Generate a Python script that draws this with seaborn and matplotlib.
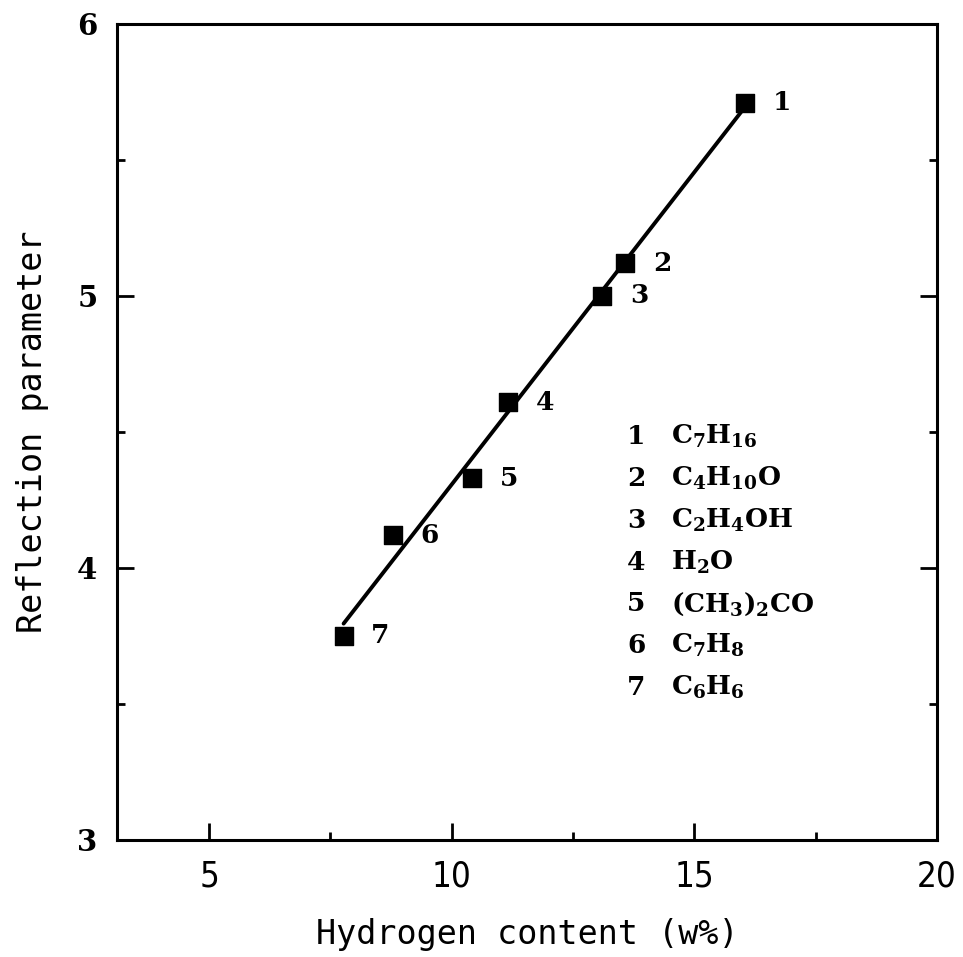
import numpy as np
import pandas as pd
import matplotlib
matplotlib.use("Agg")
import matplotlib.pyplot as plt
import seaborn as sns
from matplotlib.ticker import MultipleLocator

# valeurs
hydrogen = [16.05, 13.57, 13.1, 11.16, 10.41, 8.78, 7.77]
reflection = [5.71, 5.12, 5.0, 4.61, 4.33, 4.12, 3.75]
labels = ["1", "2", "3", "4", "5", "6", "7"]
formulas = [r"C$_7$H$_{16}$", r"C$_4$H$_{10}$O", r"C$_2$H$_4$OH", r"H$_2$O",
            r"(CH$_3$)$_2$CO", r"C$_7$H$_8$", r"C$_6$H$_6$"]

df = pd.DataFrame({"H": hydrogen, "R": reflection, "id": labels})

sns.set_style("ticks")
plt.rcParams["mathtext.default"] = "regular"
plt.rcParams["font.family"] = ["DejaVu Sans"]
for k in ["text.color", "axes.labelcolor", "xtick.color", "ytick.color", "axes.edgecolor"]:
    plt.rcParams[k] = "black"

fig = plt.figure(figsize=(9.63, 9.57), dpi=100)
ax = fig.add_axes([0.1215, 0.1223, 0.8515, 0.8527])

sns.regplot(x="H", y="R", data=df, ci=None, marker="s", ax=ax,
            scatter_kws={"s": 170, "color": "black", "alpha": 1},
            line_kws={"color": "black", "lw": 2.8})

serif_bold = dict(family="DejaVu Serif", fontweight="bold", color="black")

# numéros des points
for xv, yv, t in zip(df["H"], df["R"], df["id"]):
    ax.annotate(t, (xv, yv), xytext=(20, 0), textcoords="offset points",
                va="center", ha="left", fontsize=19, **serif_bold)

# liste des composés
for i, (t, f) in enumerate(zip(labels, formulas)):
    y = 0.494 - i * 0.0512
    ax.text(0.622, y, t, transform=ax.transAxes, va="center", ha="left",
            fontsize=19, **serif_bold)
    ax.text(0.676, y, f, transform=ax.transAxes, va="center", ha="left",
            fontsize=19, **serif_bold)

ax.set_xlim(3.1, 20)
ax.set_ylim(3, 6)
ax.xaxis.set_major_locator(MultipleLocator(5))
ax.xaxis.set_minor_locator(MultipleLocator(2.5))
ax.yaxis.set_major_locator(MultipleLocator(1))
ax.yaxis.set_minor_locator(MultipleLocator(0.5))
ax.tick_params(which="both", direction="in", top=False, right=True, width=2)
ax.tick_params(which="major", length=12, pad=14)
ax.tick_params(which="minor", length=6)
for s in ax.spines.values():
    s.set_linewidth(2.2)
    s.set_visible(True)

for lab in ax.get_xticklabels():
    lab.set_fontsize(25)
    lab.set_fontstretch("condensed")
for lab in ax.get_yticklabels():
    lab.set_fontsize(21)
    lab.set_family("DejaVu Serif")
    lab.set_fontweight("bold")

ax.set_xlabel("Hydrogen content (w%)", family="DejaVu Sans Mono", fontsize=24, labelpad=18)
ax.set_ylabel("Reflection parameter", family="DejaVu Sans Mono", fontsize=24, labelpad=20)

fig.savefig("out.png", dpi=100)
